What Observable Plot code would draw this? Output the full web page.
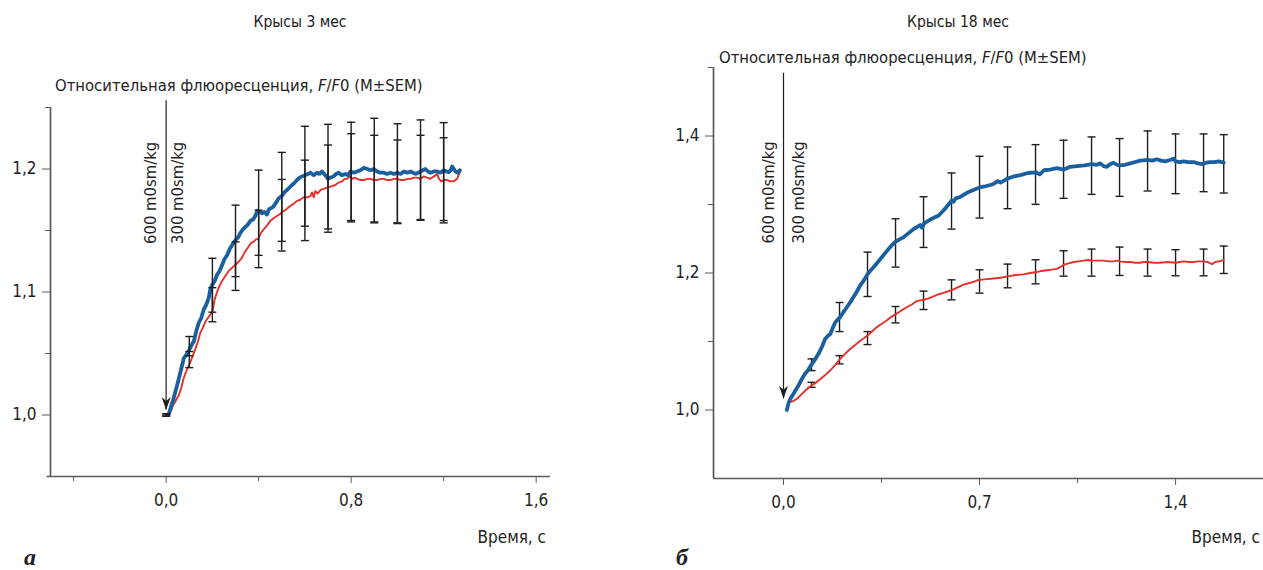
<!DOCTYPE html>
<html>
<head>
<meta charset="utf-8">
<script src="https://cdn.jsdelivr.net/npm/d3@7"></script>
<script src="https://cdn.jsdelivr.net/npm/@observablehq/plot@0.6"></script>
<style>
  html, body { margin: 0; padding: 0; background: #fff; }
  #wrap { position: relative; width: 1263px; height: 570px; background: #fff; overflow: hidden;
          font-family: 'Liberation Sans Narrow', 'DejaVu Sans Condensed', Roboto, sans-serif; color: #222; }
  .abs { position: absolute; white-space: nowrap; line-height: 1.2; }
  .title { font-size: 15.5px; transform: translate(-50%, -50%); }
  .ylab { font-size: 16.5px; transform: translate(0, -50%); }
  .xlab { font-size: 17px; transform: translate(-100%, -50%); }
  .panel { font-family: 'Liberation Serif', 'DejaVu Serif', serif; font-weight: bold; font-style: italic;
           font-size: 24px; line-height: 26px; bottom: 0; }
  .plot { position: absolute; top: 0; }
</style>
</head>
<body>
<div id="wrap">
  <div class="abs title" style="left:300px; top:22px;">Крысы 3 мес</div>
  <div class="abs title" style="left:958px; top:22px;">Крысы 18 мес</div>
  <div class="abs ylab" style="left:55px; top:86px;">Относительная флюоресценция, <i>F</i>/<i>F</i>0 (M±SEM)</div>
  <div class="abs ylab" style="left:719px; top:58px;">Относительная флюоресценция, <i>F</i>/<i>F</i>0 (M±SEM)</div>
  <div class="abs xlab" style="left:546px; top:537px;">Время, с</div>
  <div class="abs xlab" style="left:1260px; top:537px;">Время, с</div>
  <div class="abs panel" style="left:24px;">а</div>
  <div class="abs panel" style="left:676px;">б</div>
  <div id="left" class="plot" style="left:0px;"></div>
  <div id="right" class="plot" style="left:660px;"></div>
</div>
<script>
// ---------- Panel а: Крысы 3 мес ----------
const xTicks3 = [0, 0.8, 1.6];
const xMinor3 = [-0.4, 0.4, 1.2];
const yTicks3 = [1.0, 1.1, 1.2];
const yMinor3 = [1.05, 1.15, 1.25];

const blue3 = [
 [0.010,1.000],[0.020,1.006],[0.030,1.012],[0.040,1.019],[0.050,1.026],[0.062,1.035],[0.070,1.041],[0.076,1.046],
 [0.088,1.049],[0.100,1.053],[0.110,1.057],[0.120,1.060],[0.130,1.068],[0.141,1.075],[0.152,1.079],[0.163,1.086],
 [0.172,1.089],[0.184,1.095],[0.192,1.103],[0.200,1.106],[0.210,1.109],[0.220,1.114],[0.231,1.117],[0.242,1.122],
 [0.253,1.127],[0.264,1.130],[0.275,1.135],[0.285,1.138],[0.295,1.141],[0.304,1.143],[0.313,1.145],[0.321,1.148],
 [0.332,1.151],[0.343,1.153],[0.354,1.155],[0.365,1.158],[0.376,1.159],[0.386,1.162],[0.395,1.166],[0.405,1.165],
 [0.415,1.164],[0.425,1.165],[0.436,1.163],[0.444,1.167],[0.451,1.168],[0.462,1.169],[0.473,1.172],[0.486,1.176],
 [0.500,1.178],[0.511,1.181],[0.523,1.183],[0.534,1.185],[0.545,1.187],[0.556,1.189],[0.566,1.191],[0.577,1.193],
 [0.588,1.194],[0.600,1.195],[0.612,1.196],[0.624,1.197],[0.638,1.195],[0.653,1.197],[0.664,1.196],[0.674,1.198],
 [0.688,1.195],[0.700,1.192],[0.712,1.193],[0.724,1.194],[0.735,1.196],[0.746,1.197],[0.760,1.195],[0.775,1.196],
 [0.786,1.195],[0.797,1.198],[0.812,1.197],[0.826,1.198],[0.840,1.199],[0.855,1.201],[0.870,1.200],[0.884,1.199],
 [0.898,1.200],[0.912,1.198],[0.926,1.197],[0.941,1.197],[0.955,1.196],[0.970,1.197],[0.985,1.196],[0.999,1.197],
 [1.014,1.196],[1.028,1.198],[1.043,1.197],[1.057,1.198],[1.068,1.197],[1.078,1.196],[1.090,1.197],[1.100,1.198],
 [1.110,1.199],[1.121,1.200],[1.132,1.198],[1.143,1.197],[1.158,1.198],[1.172,1.198],[1.186,1.197],[1.200,1.199],
 [1.211,1.198],[1.222,1.1975],[1.230,1.199],[1.237,1.202],[1.244,1.200],[1.251,1.198],[1.260,1.197],[1.270,1.199]
];
const red3 = [
 [0.010,1.000],[0.020,1.003],[0.030,1.008],[0.040,1.011],[0.048,1.014],[0.055,1.016],[0.065,1.022],[0.076,1.030],
 [0.088,1.036],[0.100,1.041],[0.113,1.047],[0.127,1.054],[0.138,1.060],[0.148,1.067],[0.159,1.071],[0.170,1.076],
 [0.185,1.080],[0.200,1.084],[0.210,1.094],[0.220,1.100],[0.231,1.105],[0.242,1.109],[0.256,1.113],[0.270,1.117],
 [0.287,1.120],[0.304,1.123],[0.316,1.125],[0.328,1.128],[0.342,1.133],[0.357,1.137],[0.368,1.140],[0.379,1.141],
 [0.390,1.143],[0.398,1.143],[0.410,1.148],[0.422,1.151],[0.436,1.154],[0.451,1.158],[0.465,1.160],[0.480,1.162],
 [0.490,1.163],[0.500,1.165],[0.518,1.167],[0.537,1.170],[0.552,1.172],[0.566,1.174],[0.580,1.175],[0.595,1.177],
 [0.610,1.177],[0.624,1.178],[0.631,1.181],[0.638,1.177],[0.645,1.182],[0.655,1.180],[0.668,1.183],[0.684,1.184],
 [0.700,1.185],[0.716,1.186],[0.732,1.187],[0.746,1.189],[0.761,1.190],[0.772,1.192],[0.782,1.192],[0.793,1.194],
 [0.804,1.192],[0.815,1.193],[0.826,1.192],[0.840,1.191],[0.855,1.191],[0.870,1.192],[0.884,1.192],[0.898,1.191],
 [0.912,1.191],[0.926,1.192],[0.941,1.192],[0.955,1.191],[0.970,1.191],[0.985,1.192],[0.999,1.192],[1.014,1.191],
 [1.028,1.191],[1.043,1.192],[1.057,1.192],[1.071,1.193],[1.085,1.193],[1.100,1.192],[1.114,1.194],[1.128,1.193],
 [1.143,1.192],[1.158,1.194],[1.172,1.196],[1.180,1.192],[1.189,1.190],[1.202,1.191],[1.215,1.191],[1.230,1.190],
 [1.244,1.190],[1.258,1.192],[1.265,1.195],[1.272,1.198]
];
const errT3      = [0.0,   0.1,   0.2,   0.3,   0.4,   0.5,   0.6,   0.7,   0.8,   0.9,   1.0,   1.1,   1.2];
const err3BlueHi = [1.0010,1.0638,1.1274,1.1706,1.1991,1.2135,1.2347,1.2363,1.2380,1.2412,1.2368,1.2399,1.2377];
const err3BlueLo = [0.9990,1.0481,1.0836,1.1125,1.1298,1.1412,1.1535,1.1513,1.1581,1.1570,1.1562,1.1589,1.1581];
const err3RedHi  = [1.0008,1.0516,1.1035,1.1407,1.1665,1.1915,1.2072,1.2195,1.2287,1.2274,1.2236,1.2274,1.2254];
const err3RedLo  = [0.9992,1.0385,1.0758,1.1013,1.1198,1.1333,1.1418,1.1486,1.1570,1.1562,1.1556,1.1583,1.1562];

// ---------- Panel б: Крысы 18 мес ----------
const xTicks18 = [0, 0.7, 1.4];
const xMinor18 = [0.35, 1.05];
const yTicks18 = [1.0, 1.2, 1.4];
const yMinor18 = [1.1, 1.3, 1.5];

const blue18 = [
 [0.012,1.000],[0.018,1.010],[0.024,1.016],[0.033,1.022],[0.042,1.028],[0.054,1.036],[0.065,1.045],[0.077,1.053],
 [0.089,1.059],[0.101,1.067],[0.113,1.074],[0.125,1.082],[0.137,1.092],[0.149,1.104],[0.158,1.108],[0.167,1.111],
 [0.176,1.120],[0.185,1.128],[0.194,1.132],[0.203,1.136],[0.214,1.143],[0.226,1.150],[0.238,1.157],[0.250,1.165],
 [0.262,1.173],[0.274,1.182],[0.288,1.190],[0.301,1.199],[0.314,1.205],[0.327,1.211],[0.339,1.217],[0.351,1.223],
 [0.363,1.229],[0.375,1.235],[0.388,1.241],[0.401,1.246],[0.414,1.249],[0.428,1.252],[0.440,1.256],[0.452,1.260],
 [0.464,1.264],[0.476,1.267],[0.488,1.270],[0.495,1.266],[0.501,1.272],[0.512,1.275],[0.524,1.278],[0.539,1.281],
 [0.554,1.284],[0.566,1.289],[0.577,1.294],[0.589,1.300],[0.601,1.306],[0.607,1.304],[0.615,1.309],[0.631,1.311],
 [0.643,1.314],[0.655,1.317],[0.678,1.321],[0.701,1.325],[0.725,1.327],[0.750,1.330],[0.765,1.334],[0.775,1.332],
 [0.801,1.338],[0.823,1.341],[0.846,1.343],[0.873,1.346],[0.901,1.347],[0.915,1.344],[0.930,1.350],[0.952,1.351],
 [0.976,1.353],[1.001,1.351],[1.024,1.355],[1.048,1.356],[1.075,1.357],[1.101,1.359],[1.118,1.358],[1.131,1.360],
 [1.143,1.356],[1.155,1.355],[1.167,1.359],[1.179,1.361],[1.190,1.358],[1.201,1.357],[1.220,1.358],[1.238,1.360],
 [1.256,1.362],[1.274,1.364],[1.300,1.365],[1.316,1.364],[1.333,1.366],[1.348,1.364],[1.363,1.363],[1.380,1.365],
 [1.393,1.367],[1.400,1.363],[1.414,1.362],[1.429,1.363],[1.446,1.362],[1.464,1.362],[1.480,1.360],[1.494,1.359],
 [1.510,1.361],[1.524,1.362],[1.540,1.362],[1.554,1.363],[1.565,1.362],[1.572,1.361]
];
const red18 = [
 [0.012,1.000],[0.017,1.008],[0.021,1.011],[0.034,1.013],[0.047,1.016],[0.062,1.022],[0.077,1.028],[0.089,1.032],
 [0.101,1.036],[0.116,1.040],[0.131,1.045],[0.149,1.051],[0.167,1.058],[0.185,1.066],[0.203,1.075],[0.220,1.082],
 [0.238,1.089],[0.256,1.095],[0.274,1.101],[0.288,1.105],[0.301,1.109],[0.317,1.115],[0.333,1.121],[0.351,1.126],
 [0.369,1.131],[0.385,1.136],[0.401,1.140],[0.420,1.145],[0.440,1.150],[0.458,1.154],[0.476,1.159],[0.488,1.160],
 [0.501,1.161],[0.518,1.163],[0.536,1.166],[0.554,1.169],[0.571,1.171],[0.586,1.173],[0.601,1.175],[0.622,1.179],
 [0.643,1.183],[0.661,1.185],[0.679,1.187],[0.690,1.189],[0.701,1.190],[0.725,1.191],[0.750,1.192],[0.775,1.193],
 [0.801,1.195],[0.829,1.197],[0.857,1.198],[0.880,1.200],[0.901,1.201],[0.921,1.203],[0.941,1.204],[0.958,1.205],
 [0.976,1.206],[0.990,1.209],[1.001,1.212],[1.018,1.214],[1.036,1.216],[1.054,1.217],[1.072,1.218],[1.087,1.219],
 [1.101,1.218],[1.122,1.218],[1.143,1.218],[1.161,1.217],[1.179,1.217],[1.190,1.218],[1.201,1.217],[1.220,1.216],
 [1.238,1.216],[1.256,1.215],[1.274,1.215],[1.287,1.216],[1.300,1.216],[1.322,1.215],[1.345,1.215],[1.372,1.216],
 [1.400,1.215],[1.414,1.216],[1.429,1.217],[1.446,1.216],[1.464,1.216],[1.482,1.217],[1.500,1.217],[1.515,1.216],
 [1.530,1.213],[1.542,1.216],[1.554,1.217],[1.565,1.218],[1.572,1.219]
];
const errT18      = [0.1,   0.2,   0.3,   0.4,   0.5,   0.6,   0.7,   0.8,   0.9,   1.0,   1.1,   1.2,   1.3,   1.4,   1.5,   1.572];
const err18BlueHi = [1.0746,1.1569,1.2305,1.2792,1.3114,1.3460,1.3704,1.3840,1.3874,1.3938,1.3986,1.3962,1.4074,1.4030,1.4030,1.4020];
const err18BlueLo = [1.0575,1.1145,1.1657,1.2086,1.2373,1.2641,1.2802,1.2939,1.3002,1.3090,1.3148,1.3119,1.3197,1.3158,1.3187,1.3168];
const err18RedHi  = [1.0404,1.0794,1.1145,1.1511,1.1735,1.1900,1.2047,1.2130,1.2193,1.2325,1.2349,1.2378,1.2349,1.2340,1.2349,1.2393];
const err18RedLo  = [1.0331,1.0673,1.0955,1.1272,1.1467,1.1608,1.1706,1.1784,1.1842,1.1954,1.1954,1.1964,1.1954,1.1959,1.1959,1.1993];

const stimLabels = ["600 m0sm/kg", "300 m0sm/kg"];

// ---------- styling ----------
const FONT = "'Liberation Sans Narrow', 'DejaVu Sans Condensed', Roboto, sans-serif";
const BLUE = "#1a5f9f", RED = "#e5302c", AXIS = "#5a5a5a", INK = "#1e1e1e";
const fmt = d => d.toFixed(1).replace(".", ",");
const capSymbol = { draw(ctx, size) { const w = Math.sqrt(size / Math.PI); ctx.moveTo(-w, 0); ctx.lineTo(w, 0); } };
const dartSymbol = { draw(ctx) { ctx.moveTo(0, 0); ctx.lineTo(-4.5, -13); ctx.lineTo(0, -9); ctx.lineTo(4.5, -13); ctx.closePath(); } };

function errTable(t, lo, hi) { return t.map((x, i) => ({t: x, lo: lo[i], hi: hi[i]})); }
function errMarks(rows, capR, barsWidth) {
  return [
    Plot.ruleX(rows, {x: "t", y1: "lo", y2: "hi", stroke: INK, strokeWidth: barsWidth}),
    Plot.dot(rows, {x: "t", y: "lo", symbol: capSymbol, r: capR, stroke: INK, strokeWidth: barsWidth, fill: "none"}),
    Plot.dot(rows, {x: "t", y: "hi", symbol: capSymbol, r: capR, stroke: INK, strokeWidth: barsWidth, fill: "none"})
  ];
}

function panel(cfg) {
  const {xDomain, xLineStart, yDomain, xTicks, xMinor, yTicks, yMinor, blue, red, errBlue, errRed, arrowTop, arrowTip, labelY, dxL, dxR, box, barsOnTop} = cfg;
  const lines = [
    Plot.line(red, {x: d => d[0], y: d => d[1], stroke: RED, strokeWidth: 1.9, strokeLinejoin: "round"}),
    Plot.line(blue, {x: d => d[0], y: d => d[1], stroke: BLUE, strokeWidth: 3.8, strokeLinejoin: "round"})
  ];
  const bars = [...errMarks(errBlue, 4, 1.4), ...errMarks(errRed, 4, 1.4)];
  return Plot.plot({
    width: box.width, height: box.height,
    marginLeft: box.ml, marginRight: box.mr, marginTop: box.mt, marginBottom: box.mb,
    x: {domain: xDomain, label: null},
    y: {domain: yDomain, label: null},
    style: {fontFamily: FONT, fontSize: "17px", color: INK, background: "transparent", overflow: "visible"},
    marks: [
      Plot.ruleY([yDomain[0]], {x1: xLineStart, x2: xDomain[1], stroke: AXIS, strokeWidth: 1.7}),
      Plot.ruleX([xDomain[0]], {stroke: AXIS, strokeWidth: 1.7}),
      Plot.axisX(xTicks, {tickSize: 7, tickPadding: 10, tickFormat: fmt, stroke: AXIS, fill: INK, label: null}),
      Plot.axisX(xMinor, {tickSize: 5, tickFormat: () => "", stroke: AXIS, label: null}),
      Plot.axisY(yTicks, {tickSize: 8, tickPadding: 6, tickFormat: fmt, stroke: AXIS, fill: INK, label: null}),
      Plot.axisY(yMinor, {tickSize: 5, tickFormat: () => "", stroke: AXIS, label: null}),
      ...(barsOnTop ? [...lines, ...bars] : [...bars, ...lines]),
      Plot.ruleX([0], {y1: arrowTop, y2: arrowTip, stroke: INK, strokeWidth: 1.2}),
      Plot.dot([0], {x: d => d, y: () => arrowTip, symbol: dartSymbol, fill: INK, stroke: "none"}),
      Plot.text([stimLabels[0]], {x: () => 0, y: () => labelY, text: d => d, rotate: -90, dx: dxL, fill: INK, fontSize: 16.5, textAnchor: "middle", lineAnchor: "middle"}),
      Plot.text([stimLabels[1]], {x: () => 0, y: () => labelY, text: d => d, rotate: -90, dx: dxR, fill: INK, fontSize: 16.5, textAnchor: "middle", lineAnchor: "middle"})
    ]
  });
}

document.getElementById("left").append(panel({
  xDomain: [-0.5, 1.662], xLineStart: -0.515, yDomain: [0.95, 1.25],
  xTicks: xTicks3, xMinor: xMinor3, yTicks: yTicks3, yMinor: yMinor3,
  blue: blue3, red: red3,
  errBlue: errTable(errT3, err3BlueLo, err3BlueHi), errRed: errTable(errT3, err3RedLo, err3RedHi),
  arrowTop: 1.2555, arrowTip: 1.004, labelY: 1.1806, dxL: -15, dxR: 12,
  box: {width: 560, height: 520, ml: 50, mr: 10, mt: 107, mb: 44}, barsOnTop: true
}));

document.getElementById("right").append(panel({
  xDomain: [-0.25, 1.714], xLineStart: -0.25, yDomain: [0.9, 1.5],
  xTicks: xTicks18, xMinor: xMinor18, yTicks: yTicks18, yMinor: yMinor18,
  blue: blue18, red: red18,
  errBlue: errTable(errT18, err18BlueLo, err18BlueHi), errRed: errTable(errT18, err18RedLo, err18RedHi),
  arrowTop: 1.4917, arrowTip: 1.0165, labelY: 1.3177, dxL: -15, dxR: 15,
  box: {width: 603, height: 520, ml: 53, mr: 0, mt: 67, mb: 42}, barsOnTop: false
}));
</script>
</body>
</html>
